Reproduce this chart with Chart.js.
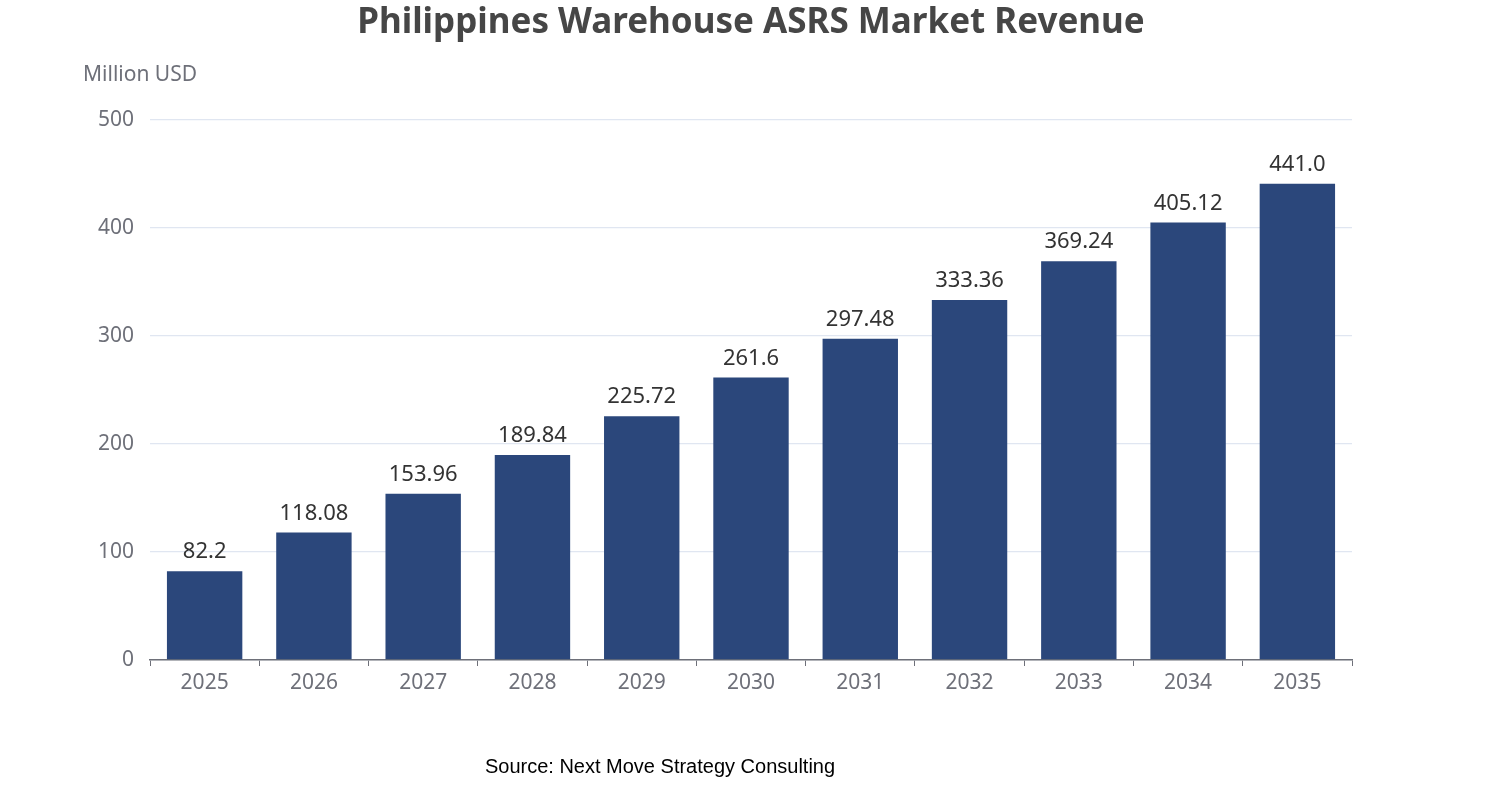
<!DOCTYPE html>
<html>
<head>
<meta charset="utf-8">
<script src="https://cdn.jsdelivr.net/npm/chart.js@4"></script>
<style>
  html, body { margin: 0; padding: 0; background: #fff; }
  #wrap { width: 1502px; height: 800px; }
</style>
</head>
<body>
<div id="wrap"><canvas id="chart"></canvas></div>
<script>
// data
var years = ['2025', '2026', '2027', '2028', '2029', '2030', '2031', '2032', '2033', '2034', '2035'];
var revenue = [82.2, 118.08, 153.96, 189.84, 225.72, 261.6, 297.48, 333.36, 369.24, 405.12, 441.0];
var valueLabels = ['82.2', '118.08', '153.96', '189.84', '225.72', '261.6', '297.48', '333.36', '369.24', '405.12', '441.0'];

var FONT = '"Noto Sans", "DejaVu Sans", sans-serif';

// title, axis name, bar labels and source line
var extras = {
    id: 'extras',
    afterDraw: function (chart) {
        var ctx = chart.ctx;
        var area = chart.chartArea;
        ctx.save();
        ctx.textAlign = 'center';
        ctx.textBaseline = 'middle';
        ctx.fillStyle = '#464646';
        ctx.font = 'bold 35px ' + FONT;
        ctx.fillText('Philippines Warehouse ASRS Market Revenue', 751, 23);

        ctx.textAlign = 'left';
        ctx.fillStyle = '#6e7079';
        ctx.font = '21px ' + FONT;
        ctx.fillText('Million USD', 83, 75);

        ctx.textAlign = 'center';
        ctx.textBaseline = 'bottom';
        ctx.fillStyle = '#333';
        ctx.font = '22px ' + FONT;
        var meta = chart.getDatasetMeta(0);
        meta.data.forEach(function (bar, i) {
            ctx.fillText(valueLabels[i], bar.x, bar.y - 8);
        });

        ctx.textBaseline = 'middle';
        ctx.fillStyle = '#000';
        ctx.font = '20px "Liberation Sans", Arial, sans-serif';
        ctx.fillText('Source: Next Move Strategy Consulting', 660, 767);
        ctx.restore();
    }
};

var ctx = document.getElementById('chart').getContext('2d');
var chart = new Chart(ctx, {
    type: 'bar',
    data: {
        labels: years,
        datasets: [{
            data: revenue,
            backgroundColor: '#2b477b',
            barPercentage: 0.69,
            categoryPercentage: 1
        }]
    },
    options: {
        responsive: true,
        maintainAspectRatio: false,
        animation: false,
        layout: { padding: { top: 120, right: 150, left: 0, bottom: 0 } },
        plugins: { legend: { display: false }, tooltip: { enabled: false } },
        scales: {
            x: {
                afterFit: function (s) { s.height = 140; },
                grid: { display: true, drawOnChartArea: false, drawTicks: true, tickLength: 6, offset: true, color: '#6e7079' },
                border: { display: true, color: '#6e7079', width: 1.5 },
                ticks: { color: '#6e7079', font: { family: FONT, size: 21 }, padding: 4 }
            },
            y: {
                min: 0,
                max: 500,
                afterFit: function (s) { s.width = 150; },
                grid: { color: '#e0e6f1', drawTicks: false, lineWidth: 1.3 },
                border: { display: false },
                ticks: { stepSize: 100, color: '#6e7079', font: { family: FONT, size: 21 }, padding: 16 }
            }
        }
    },
    plugins: [extras]
});
</script>
</body>
</html>
